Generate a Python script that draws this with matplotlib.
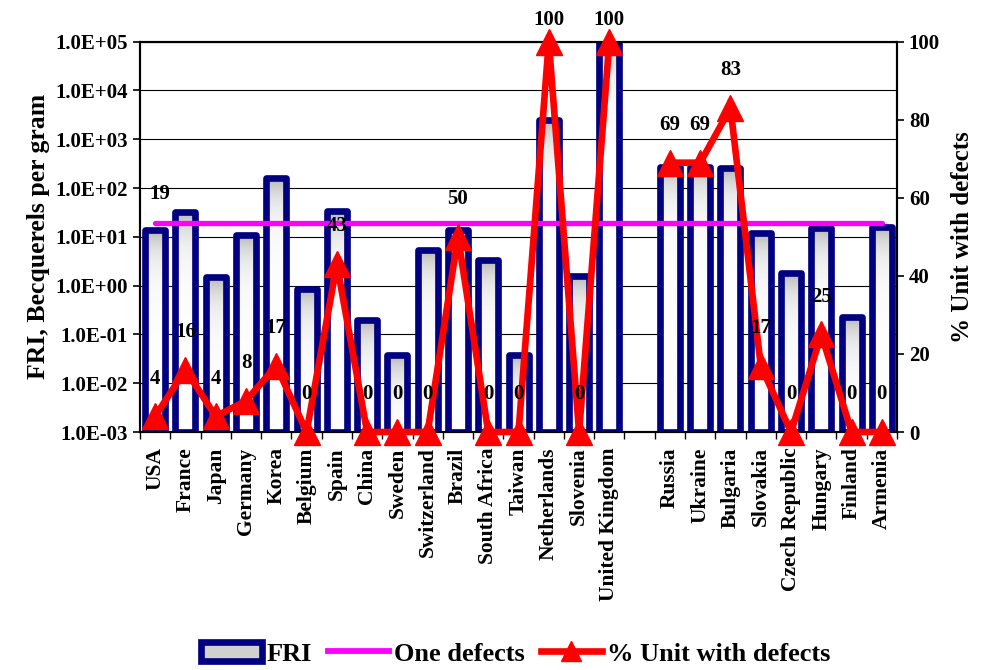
import numpy as np
import matplotlib
matplotlib.use("Agg")
import matplotlib.pyplot as plt
from matplotlib.patches import Patch
from matplotlib.lines import Line2D
from matplotlib.ticker import FuncFormatter, FixedLocator

plt.rcParams["font.family"] = ["Liberation Serif", "DejaVu Serif"]
plt.rcParams["font.weight"] = "bold"

countries_a = ["USA", "France", "Japan", "Germany", "Korea", "Belgium", "Spain",
               "China", "Sweden", "Switzerland", "Brazil", "South Africa", "Taiwan",
               "Netherlands", "Slovenia", "United Kingdom"]
countries_b = ["Russia", "Ukraine", "Bulgaria", "Slovakia", "Czech Republic",
               "Hungary", "Finland", "Armenia"]

fri_a = [14, 33, 1.5, 11, 160, 0.85, 34, 0.2, 0.038, 5.4, 14, 3.3, 0.038,
         2500, 1.6, 100000]
fri_b = [275, 275, 253, 12, 1.8, 15, 0.23, 16]

pct_a = [4, 16, 4, 8, 17, 0, 43, 0, 0, 0, 50, 0, 0, 100, 0, 100]
pct_b = [69, 69, 83, 17, 0, 25, 0, 0]

one_defect = 19

# slot positions, one empty slot between the two groups
pos_a = np.arange(len(countries_a))
pos_b = np.arange(len(countries_b)) + len(countries_a) + 1
positions = np.concatenate([pos_a, pos_b])
labels = countries_a + countries_b
fri = fri_a + fri_b
n_slots = len(countries_a) + len(countries_b) + 1

navy = "#000080"
bottom = 1e-3

fig = plt.figure(figsize=(9.84, 6.7), dpi=100)
ax = fig.add_axes([0.1423, 0.3552, 0.7693, 0.5826])
ax2 = ax.twinx()

ax.set_yscale("log")
ax.set_ylim(bottom, 1e5)
ax.set_xlim(-0.5, n_slots - 0.5)
ax.set_axisbelow(True)
ax.grid(axis="y", which="major", color="black", linewidth=0.8)

width = 0.66
grad = np.linspace(0.70, 0.99, 200).reshape(-1, 1)
bars = ax.bar(positions, [v - bottom for v in fri], width=width, bottom=bottom,
              facecolor="none", edgecolor=navy, linewidth=4.8, zorder=3,
              joinstyle="round")
for b, x, v in zip(bars, positions, fri):
    im = ax.imshow(grad, cmap="gray", vmin=0, vmax=1, aspect="auto",
                   extent=[x - width / 2, x + width / 2, bottom, v],
                   origin="upper", zorder=2, interpolation="bilinear")
    im.set_clip_path(b)
ax.set_ylim(bottom, 1e5)
ax.set_xlim(-0.5, n_slots - 0.5)

ax.plot([positions[0], positions[-1]], [one_defect, one_defect], color="#ff00ff",
        linewidth=3.8, solid_capstyle="round", zorder=4)
ax.text(positions[0] + 0.15, one_defect * 3.9, str(one_defect), ha="center",
        va="center", fontsize=15, fontweight="bold")

ax.yaxis.set_major_formatter(FuncFormatter(lambda v, p: f"{v:.1E}"))
ax.yaxis.set_minor_locator(FixedLocator([]))
ax.tick_params(axis="y", labelsize=15, width=1.2, length=5)
ax.set_ylabel("FRI, Becquerels per gram", fontsize=18.5, fontweight="bold", labelpad=4)

ax.set_xticks(positions)
ax.set_xticklabels(labels, rotation=90, fontsize=15.5, fontweight="bold")
ax.tick_params(axis="x", which="major", length=0, pad=11)
ax.set_xticks(np.arange(n_slots + 1) - 0.5, minor=True)
ax.tick_params(axis="x", which="minor", length=5, width=1.0)

# percentage line, broken at the empty slot
pct_line = np.full(n_slots, np.nan)
pct_line[positions] = pct_a + pct_b
ax2.plot(np.arange(n_slots), pct_line, color="red", linewidth=4.8,
         marker="^", markersize=19, clip_on=False, zorder=5)
for x, v in zip(positions, pct_a + pct_b):
    ax2.text(x, min(v + 9.7, 105.5), str(v), ha="center", va="center",
             fontsize=15, fontweight="bold", zorder=6)
ax2.set_ylim(0, 100)
ax2.set_yticks([0, 20, 40, 60, 80, 100])
ax2.tick_params(axis="y", labelsize=15, width=1.2, length=5)
ax2.set_ylabel("% Unit with defects", fontsize=18, fontweight="bold", labelpad=8)

for a in (ax, ax2):
    for s in a.spines.values():
        s.set_linewidth(1.5)

handles = [
    Patch(facecolor="#d0d0d0", edgecolor=navy, linewidth=4.8),
    Line2D([], [], color="#ff00ff", linewidth=4.2),
    Line2D([], [], color="red", linewidth=4.8, marker="^", markersize=14),
]
fig.legend(handles, ["FRI", "One defects", "% Unit with defects"], loc="center",
           bbox_to_anchor=(0.524, 0.024), ncol=3, frameon=False,
           handlelength=2.3, handletextpad=0.2, columnspacing=0.6,
           prop={"weight": "bold", "size": 19})

fig.savefig("out.png", dpi=100)
